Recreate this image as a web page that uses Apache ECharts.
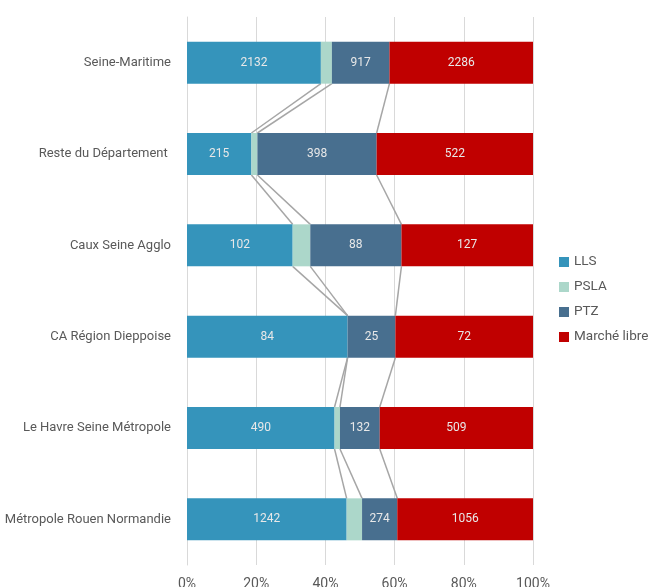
<!DOCTYPE html>
<html>
<head>
<meta charset="utf-8">
<script src="https://cdn.jsdelivr.net/npm/echarts@6/dist/echarts.min.js"></script>
<style>
  html, body { margin: 0; padding: 0; background: #fff; }
  #chart { width: 650px; height: 587px; }
</style>
</head>
<body>
<div id="chart"></div>
<script>
// territoires (du haut vers le bas)
var categories = ['Seine-Maritime', 'Reste du Département ', 'Caux Seine Agglo', 'CA Région Dieppoise', 'Le Havre Seine Métropole', 'Métropole Rouen Normandie'];
var seriesNames = ['LLS', 'PSLA', 'PTZ', 'Marché libre'];
var lls = [2132, 215, 102, 84, 490, 1242];
var psla = [175, 20, 17, 0, 18, 120];
var ptz = [917, 398, 88, 25, 132, 274];
var marcheLibre = [2286, 522, 127, 72, 509, 1056];
var xTicks = [0, 20, 40, 60, 80, 100];

var colors = ['#3594bb', '#acd7ca', '#486f8f', '#c00000'];
var font = 'Roboto, sans-serif';
var raw = [lls, psla, ptz, marcheLibre];
var totals = categories.map(function (c, i) {
    return lls[i] + psla[i] + ptz[i] + marcheLibre[i];
});
var barH = 42;

// bornes cumulées (en %) pour les traits de liaison
var bounds = categories.map(function (c, i) {
    var s = 0, out = [];
    for (var k = 0; k < 3; k++) {
        s += raw[k][i];
        out.push(s / totals[i] * 100);
    }
    return out;
});
var linkData = [];
for (var i = 0; i < categories.length - 1; i++) {
    for (var k = 0; k < 3; k++) {
        linkData.push([bounds[i][k], i, bounds[i + 1][k], i + 1]);
    }
}

var chart = echarts.init(document.getElementById('chart'));

var barSeries = raw.map(function (arr, k) {
    return {
        name: seriesNames[k],
        type: 'bar',
        stack: 'total',
        barWidth: barH,
        itemStyle: { color: colors[k] },
        label: {
            show: k !== 1,
            color: '#e8e8e8',
            fontFamily: font,
            fontSize: 12,
            formatter: function (p) { return arr[p.dataIndex]; }
        },
        data: arr.map(function (v, i) { return v / totals[i] * 100; })
    };
});

chart.setOption({
    animation: false,
    legend: {
        orient: 'vertical',
        left: 554,
        top: 250,
        itemWidth: 10,
        itemHeight: 10,
        itemGap: 11,
        icon: 'rect',
        textStyle: { color: '#595959', fontFamily: font, fontSize: 13.5 },
        data: seriesNames
    },
    grid: { left: 187, right: 117, top: 17, bottom: 22, outerBoundsMode: 'none' },
    xAxis: {
        type: 'value',
        min: 0,
        max: 100,
        interval: 20,
        axisLabel: { color: '#595959', fontFamily: font, fontSize: 14, margin: 12, formatter: '{value}%' },
        splitLine: { lineStyle: { color: '#d9d9d9', width: 1 } },
        axisLine: { show: false },
        axisTick: { show: false }
    },
    yAxis: {
        type: 'category',
        inverse: true,
        data: categories,
        axisLabel: { color: '#595959', fontFamily: font, fontSize: 13, margin: 16 },
        axisLine: { show: true, lineStyle: { color: '#d9d9d9' } },
        axisTick: { show: false }
    },
    series: barSeries.concat([{
        type: 'custom',
        silent: true,
        z: 1,
        data: linkData,
        renderItem: function (params, api) {
            var a = api.coord([api.value(0), api.value(1)]);
            var b = api.coord([api.value(2), api.value(3)]);
            return {
                type: 'line',
                shape: { x1: a[0], y1: a[1] + barH / 2, x2: b[0], y2: b[1] - barH / 2 },
                style: { stroke: '#a6a6a6', lineWidth: 1.5 }
            };
        }
    }])
});
</script>
</body>
</html>
